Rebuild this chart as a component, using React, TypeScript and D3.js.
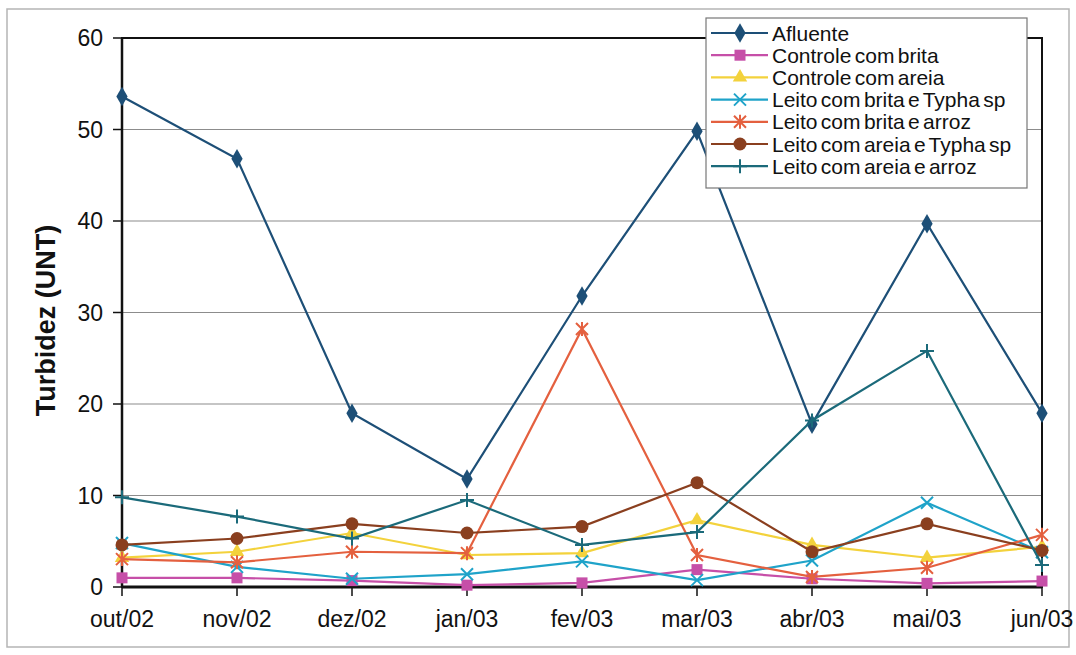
import React from "react";
import * as d3 from "d3";

// Monthly sampling dates
const months = ["out/02", "nov/02", "dez/02", "jan/03", "fev/03", "mar/03", "abr/03", "mai/03", "jun/03"];
const yTicks = [0, 10, 20, 30, 40, 50, 60];

// Turbidity per treatment (UNT)
const afluente = [53.6, 46.8, 19.0, 11.8, 31.8, 49.8, 17.8, 39.7, 19.0];
const controleBrita = [1.0, 1.0, 0.7, 0.2, 0.45, 1.9, 0.9, 0.4, 0.65];
const controleAreia = [3.2, 3.85, 5.9, 3.5, 3.7, 7.3, 4.6, 3.2, 4.4];
const leitoBritaTypha = [4.8, 2.2, 0.9, 1.4, 2.8, 0.75, 2.9, 9.2, 3.8];
const leitoBritaArroz = [3.05, 2.7, 3.85, 3.7, 28.2, 3.5, 1.1, 2.1, 5.7];
const leitoAreiaTypha = [4.6, 5.3, 6.9, 5.9, 6.6, 11.4, 3.85, 6.9, 4.0];
const leitoAreiaArroz = [9.8, 7.7, 5.3, 9.5, 4.6, 6.0, 18.2, 25.8, 2.4];

type Marker = "diamond" | "square" | "triangle" | "x" | "asterisk" | "circle" | "plus";

const series: { name: string; values: number[]; color: string; marker: Marker }[] = [
  { name: "Afluente", values: afluente, color: "#1d4f77", marker: "diamond" },
  { name: "Controle com brita", values: controleBrita, color: "#c64fa8", marker: "square" },
  { name: "Controle com areia", values: controleAreia, color: "#f3d23c", marker: "triangle" },
  { name: "Leito com brita e Typha sp", values: leitoBritaTypha, color: "#1fa3c9", marker: "x" },
  { name: "Leito com brita e arroz", values: leitoBritaArroz, color: "#e4603f", marker: "asterisk" },
  { name: "Leito com areia e Typha sp", values: leitoAreiaTypha, color: "#8a3f1f", marker: "circle" },
  { name: "Leito com areia e arroz", values: leitoAreiaArroz, color: "#1b6a7a", marker: "plus" },
];

const W = 1076;
const H = 655;
const plot = { left: 122, right: 1042, top: 38, bottom: 587 };

const x = d3.scalePoint<string>().domain(months).range([plot.left, plot.right]);
const y = d3.scaleLinear().domain([0, 60]).range([plot.bottom, plot.top]);

function MarkerShape({ kind, cx, cy, color }: { kind: Marker; cx: number; cy: number; color: string }) {
  switch (kind) {
    case "diamond":
      return <path d={d3.symbol(d3.symbolDiamond, 110)()!} transform={`translate(${cx},${cy})`} fill={color} />;
    case "square":
      return <rect x={cx - 5.5} y={cy - 5.5} width={11} height={11} fill={color} />;
    case "triangle":
      return <path d={d3.symbol(d3.symbolTriangle, 90)()!} transform={`translate(${cx},${cy})`} fill={color} />;
    case "circle":
      return <circle cx={cx} cy={cy} r={6.5} fill={color} />;
    case "x":
      return (
        <path d={`M${cx - 6},${cy - 6}L${cx + 6},${cy + 6}M${cx - 6},${cy + 6}L${cx + 6},${cy - 6}`} stroke={color} strokeWidth={2} />
      );
    case "asterisk":
      return (
        <path
          d={`M${cx - 6},${cy - 6}L${cx + 6},${cy + 6}M${cx - 6},${cy + 6}L${cx + 6},${cy - 6}M${cx},${cy - 7}L${cx},${cy + 7}`}
          stroke={color}
          strokeWidth={2}
        />
      );
    case "plus":
      return <path d={`M${cx - 7},${cy}L${cx + 7},${cy}M${cx},${cy - 7}L${cx},${cy + 7}`} stroke={color} strokeWidth={2} />;
  }
}

export default function App() {
  const line = d3
    .line<number>()
    .x((_, i) => x(months[i])!)
    .y((v) => y(v));

  const legend = { x: 706, y: 18, w: 321, h: 170, rowH: 22.2, first: 33 };

  return (
    <svg
      width={W}
      height={H}
      style={{ position: "absolute", left: 0, top: 0, background: "#fff" }}
      fontFamily="'Liberation Sans', Arial, sans-serif"
    >
      <rect x={7} y={9} width={1062} height={638} fill="#fff" stroke="#b5b5b5" strokeWidth={1.5} />

      {/* gridlines */}
      {yTicks
        .filter((t) => t > 0 && t < 60)
        .map((t) => (
          <line key={t} x1={plot.left} x2={plot.right} y1={y(t)} y2={y(t)} stroke="#8c8c8c" strokeWidth={1.2} />
        ))}

      {/* plot border */}
      <rect
        x={plot.left}
        y={plot.top}
        width={plot.right - plot.left}
        height={plot.bottom - plot.top}
        fill="none"
        stroke="#111"
        strokeWidth={2}
      />

      {/* y axis ticks and labels */}
      {yTicks.map((t) => (
        <g key={t}>
          <line x1={plot.left - 9} x2={plot.left} y1={y(t)} y2={y(t)} stroke="#111" strokeWidth={1.5} />
          <text x={plot.left - 19} y={y(t)} dy="0.35em" textAnchor="end" fontSize={23} fill="#111">
            {t}
          </text>
        </g>
      ))}

      {/* x axis ticks and labels */}
      {months.map((m) => (
        <g key={m}>
          <line x1={x(m)!} x2={x(m)!} y1={plot.bottom} y2={plot.bottom + 9} stroke="#111" strokeWidth={1.5} />
          <text x={x(m)!} y={plot.bottom + 40} textAnchor="middle" fontSize={23} fill="#111">
            {m}
          </text>
        </g>
      ))}
      <line x1={plot.left} x2={plot.right} y1={plot.bottom} y2={plot.bottom} stroke="#111" strokeWidth={3} />
      <line x1={plot.left} x2={plot.left} y1={plot.top} y2={plot.bottom} stroke="#111" strokeWidth={2.5} />

      <text
        transform={`translate(55,${(plot.top + plot.bottom) / 2 + 8}) rotate(-90)`}
        textAnchor="middle"
        fontSize={27}
        fontWeight="bold"
        fill="#111"
      >
        Turbidez (UNT)
      </text>

      {/* series */}
      {series.map((s) => (
        <g key={s.name}>
          <path d={line(s.values)!} fill="none" stroke={s.color} strokeWidth={2.2} />
          {s.values.map((v, i) => (
            <MarkerShape key={i} kind={s.marker} cx={x(months[i])!} cy={y(v)} color={s.color} />
          ))}
        </g>
      ))}

      {/* legend */}
      <g>
        <rect x={legend.x} y={legend.y} width={legend.w} height={legend.h} fill="#fff" stroke="#777" strokeWidth={1.2} />
        {series.map((s, i) => {
          const cy = legend.first + i * legend.rowH;
          return (
            <g key={s.name}>
              <line x1={legend.x + 5} x2={legend.x + 62} y1={cy} y2={cy} stroke={s.color} strokeWidth={2.2} />
              <MarkerShape kind={s.marker} cx={legend.x + 34} cy={cy} color={s.color} />
              <text
                x={legend.x + 66}
                y={cy}
                dy="0.36em"
                fontSize={21}
                fill="#111"
                letterSpacing={0}
                wordSpacing={-2.5}
              >
                {s.name}
              </text>
            </g>
          );
        })}
      </g>
    </svg>
  );
}
